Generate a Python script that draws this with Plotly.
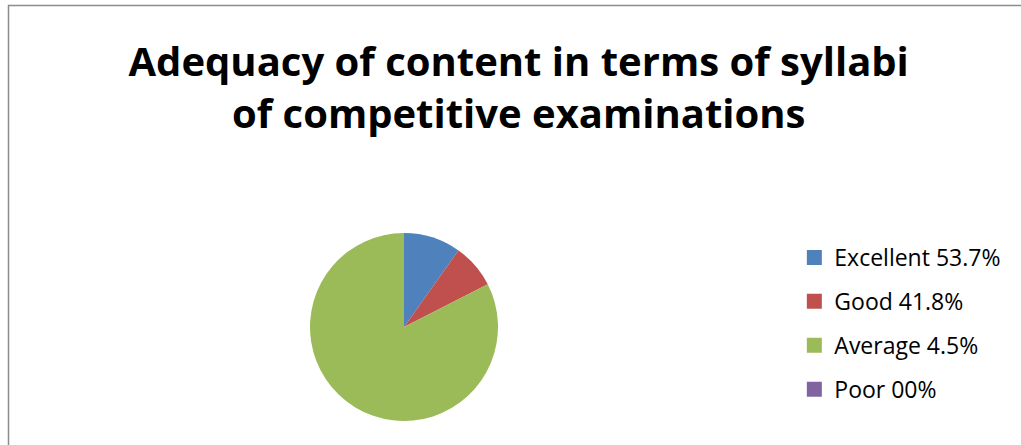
import plotly.graph_objects as go

# slice sizes as drawn in the reference (the legend text carries the stated %)
categories = ["Excellent", "Good", "Average", "Poor"]
legend_labels = ["Excellent 53.7%", "Good 41.8%", "Average 4.5%", "Poor 00%"]
values = [5.37, 4.18, 45, 0]
colors = ["#4F81BD", "#C0504D", "#9BBB59", "#8064A2"]

W, H = 1021, 445

fig = go.Figure()

fig.add_trace(go.Pie(
    labels=categories,
    values=values,
    marker=dict(colors=colors, line=dict(width=0)),
    sort=False,
    direction="clockwise",
    rotation=0,
    textinfo="none",
    hoverinfo="label+percent",
    showlegend=False,
    domain=dict(x=[(404 - 94) / W, (404 + 94) / W],
                y=[(H - 421) / H, (H - 233) / H]),
))

# legend entries, one group each so the rows can be spaced like the original
for i, lab in enumerate(legend_labels):
    fig.add_trace(go.Scatter(
        x=[None], y=[None],
        mode="markers",
        marker=dict(symbol="square", size=15, color=colors[i]),
        name=lab,
        legendgroup=lab,
        hoverinfo="skip",
    ))

fig.update_layout(
    width=W, height=H,
    margin=dict(l=0, r=0, t=0, b=0),
    paper_bgcolor="white",
    plot_bgcolor="white",
    xaxis=dict(visible=False),
    yaxis=dict(visible=False),
    title=dict(
        text="Adequacy of content in terms of syllabi<br>of competitive examinations",
        x=0.508, xanchor="center",
        y=1 - 76 / H, yanchor="middle",
        font=dict(family="Open Sans", size=40, color="black", weight="bold"),
    ),
    legend=dict(
        x=0.778, xanchor="left",
        y=(H - 236) / H, yanchor="top",
        font=dict(family="Open Sans", size=23, color="black"),
        tracegroupgap=11,
        itemwidth=30,
        bgcolor="rgba(0,0,0,0)",
    ),
    shapes=[dict(
        type="rect", xref="paper", yref="paper",
        x0=8.5 / W, x1=1.05, y0=-0.05, y1=1 - 5.5 / H,
        line=dict(color="#8c8c8c", width=1.5),
        fillcolor="rgba(0,0,0,0)",
        layer="below",
    )],
)

fig.write_html("out.html", config={"displayModeBar": False},
               post_script="document.body.style.margin='0px';")
